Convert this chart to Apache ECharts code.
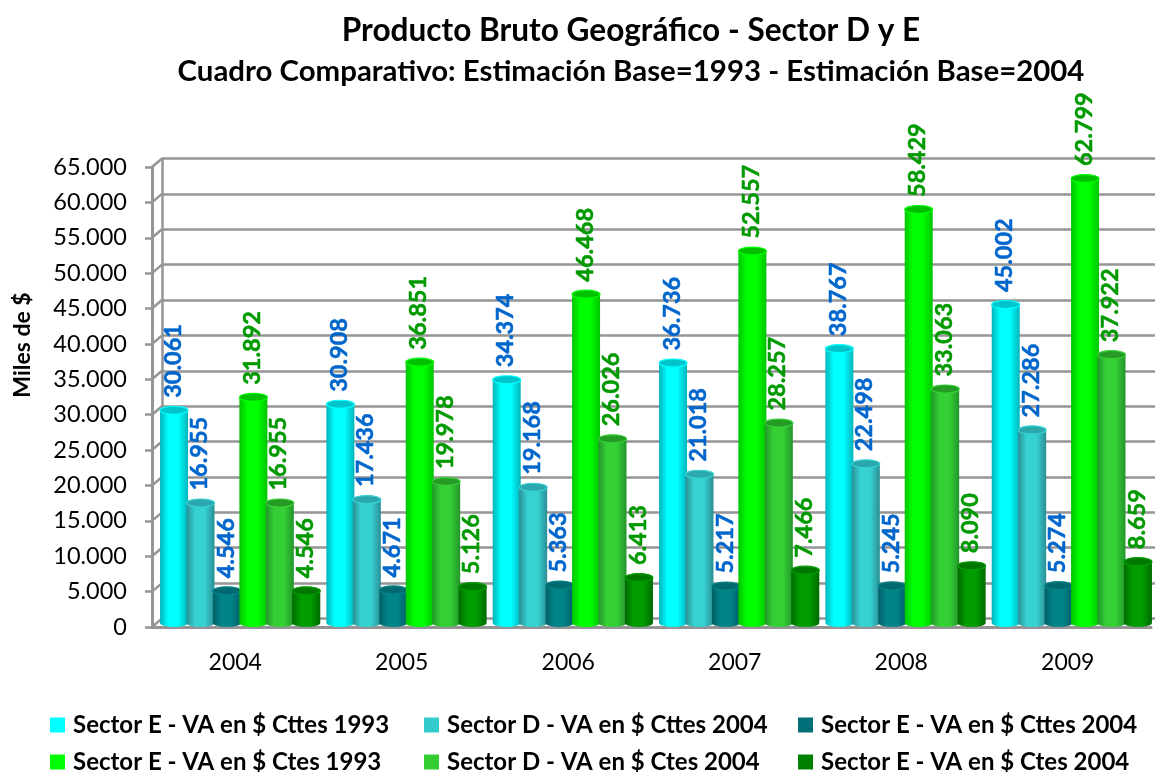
<!DOCTYPE html>
<html><head><meta charset="utf-8">
<style>html,body{margin:0;padding:0;background:#fff}#c{width:1155px;height:772px}</style>
<script src="https://cdn.jsdelivr.net/npm/echarts@6/dist/echarts.min.js"></script>
</head><body><div id="c"></div>
<script>
const years = ['2004','2005','2006','2007','2008','2009'];
const seriesNames = ['Sector E - VA en $ Cttes 1993','Sector D - VA en $ Cttes 2004','Sector E - VA en $ Cttes 2004','Sector E - VA en $ Ctes 1993','Sector D - VA en $ Ctes 2004','Sector E - VA en $ Ctes 2004'];
const eCttes1993 = [30061,30908,34374,36736,38767,45002];
const dCttes2004 = [16955,17436,19168,21018,22498,27286];
const eCttes2004 = [4546,4671,5363,5217,5245,5274];
const eCtes1993 = [31892,36851,46468,52557,58429,62799];
const dCtes2004 = [16955,19978,26026,28257,33063,37922];
const eCtes2004 = [4546,5126,6413,7466,8090,8659];
const allValues = [eCttes1993,dCttes2004,eCttes2004,eCtes1993,dCtes2004,eCtes2004];
const tickValues = [0,5000,10000,15000,20000,25000,30000,35000,40000,45000,50000,55000,60000,65000];
const palette = [
 {edge:'#00B4BC',mid:'#00FFFF',cap:'#00C4CC',legend:'#00FFFF',label:'#0066CC'},
 {edge:'#2A8F96',mid:'#36D2D2',cap:'#2AA8AE',legend:'#33CCCC',label:'#0066CC'},
 {edge:'#005F66',mid:'#008488',cap:'#006A70',legend:'#006F78',label:'#0066CC'},
 {edge:'#00C400',mid:'#00FF00',cap:'#00C000',legend:'#00FF00',label:'#009900'},
 {edge:'#23952A',mid:'#35D035',cap:'#259A25',legend:'#33CC33',label:'#009900'},
 {edge:'#006A00',mid:'#009C00',cap:'#007800',legend:'#008000',label:'#009900'}
];
const fmt = v => String(v).replace(/\B(?=(\d{3})+$)/g,'.');
const FONT = 'Lato';
const gridGray = '#959595';

function cylinder(k){
  const c = palette[k];
  return function(params, api){
    const i = api.value(0), v = api.value(1);
    const top = api.coord([i, v]);
    const base = api.coord([i, 0]);
    const band = api.size([1,0])[0];
    const w = 28, step = band*0.159;
    const cx = top[0] + (k-2.5)*step;
    const l = cx - w/2, r = cx + w/2, ry = 4;
    const grad = {type:'linear',x:0,y:0,x2:1,y2:0,colorStops:[
      {offset:0,color:c.edge},{offset:.3,color:c.mid},{offset:.65,color:c.mid},{offset:1,color:c.edge}]};
    const d = `M${l} ${top[1]}L${l} ${base[1]}A${w/2} ${ry} 0 0 0 ${r} ${base[1]}L${r} ${top[1]}Z`;
    return {type:'group',children:[
      {type:'path',shape:{pathData:d},style:{fill:grad}},
      {type:'ellipse',shape:{cx:cx,cy:top[1],rx:w/2,ry:ry},style:{fill:c.cap,stroke:c.mid,lineWidth:1.2}},
      {type:'text',x:cx-1,y:top[1]-12.5,rotation:Math.PI/2,z2:20,
        style:{text:fmt(v),fill:c.label,stroke:c.label,lineWidth:0.5,font:`bold 23.5px ${FONT}`,align:'left',verticalAlign:'middle'}}
    ]};
  };
}

const barSeries = seriesNames.map((n,k)=>({
  name:n,type:'custom',xAxisIndex:2,yAxisIndex:2,z:5+k,
  itemStyle:{color:palette[k].legend},
  encode:{x:0,y:1},
  renderItem:cylinder(k),
  data:allValues[k].map((v,i)=>[i,v])
}));

const wallSeries = {
  type:'custom',xAxisIndex:0,yAxisIndex:0,z:2,silent:true,legendHoverLink:false,
  encode:{y:0},
  renderItem(params,api){
    const y = api.coord([0,api.value(0)])[1];
    const x = params.coordSys.x;
    return {type:'line',shape:{x1:x,y1:y,x2:x+10,y2:y-8.5},style:{stroke:gridGray,lineWidth:2.5}};
  },
  data:tickValues.map(v=>[v])
};

const columns = [45,419,793], rows = [708,745];
const legends = seriesNames.map((n,k)=>({
  left:columns[k%3],top:rows[Math.floor(k/3)],data:[n],selectedMode:false,
  icon:'rect',itemWidth:15,itemHeight:15,
  textStyle:{fontFamily:FONT,fontWeight:'bold',fontSize:24,color:'#000',padding:[0,0,0,3]}
}));

const grids = [
  {left:152,top:167,width:999,height:460},
  {left:162,top:158.5,width:999,height:460},
  {left:157,top:163,width:999,height:460}
];

const chart = echarts.init(document.getElementById('c'),null,{renderer:'canvas'});
chart.setOption({
  animation:false,
  backgroundColor:'#fff',
  title:[
    {text:'Producto Bruto Geográfico - Sector D y E',left:626,top:10,textAlign:'center',
     textStyle:{fontFamily:FONT,fontWeight:'bold',fontSize:31.6,color:'#000'}},
    {text:'Cuadro Comparativo: Estimación Base=1993 - Estimación Base=2004',left:626,top:52,textAlign:'center',
     textStyle:{fontFamily:FONT,fontWeight:'bold',fontSize:29.4,color:'#000'}}
  ],
  legend:legends,
  grid:grids,
  xAxis:[
    {gridIndex:0,type:'category',data:years,axisTick:{show:false},
     axisLine:{lineStyle:{color:gridGray,width:3}},
     axisLabel:{fontFamily:FONT,fontSize:23,color:'#000',margin:24}},
    {gridIndex:1,type:'category',data:years,show:false},
    {gridIndex:2,type:'category',data:years,show:false}
  ],
  yAxis:[
    {gridIndex:0,type:'value',min:0,max:65000,interval:5000,
     name:'Miles de $',nameLocation:'middle',nameGap:118,nameRotate:90,
     nameTextStyle:{fontFamily:FONT,fontWeight:'bold',fontSize:23,color:'#000',padding:[0,0,0,104]},
     axisLine:{show:true,lineStyle:{color:gridGray,width:3}},
     axisTick:{show:true,length:7,lineStyle:{color:gridGray,width:2.5}},
     splitLine:{show:false},
     axisLabel:{fontFamily:FONT,fontSize:23.5,color:'#000',margin:25,padding:[8,0,0,0],formatter:v=>fmt(v)}},
    {gridIndex:1,type:'value',min:0,max:65000,interval:5000,
     axisLabel:{show:false},axisTick:{show:false},
     axisLine:{show:true,lineStyle:{color:gridGray,width:2.5}},
     splitLine:{show:true,lineStyle:{color:gridGray,width:2.5}}},
    {gridIndex:2,type:'value',min:0,max:65000,interval:5000,show:false}
  ],
  series:[wallSeries].concat(barSeries)
});
</script></body></html>
